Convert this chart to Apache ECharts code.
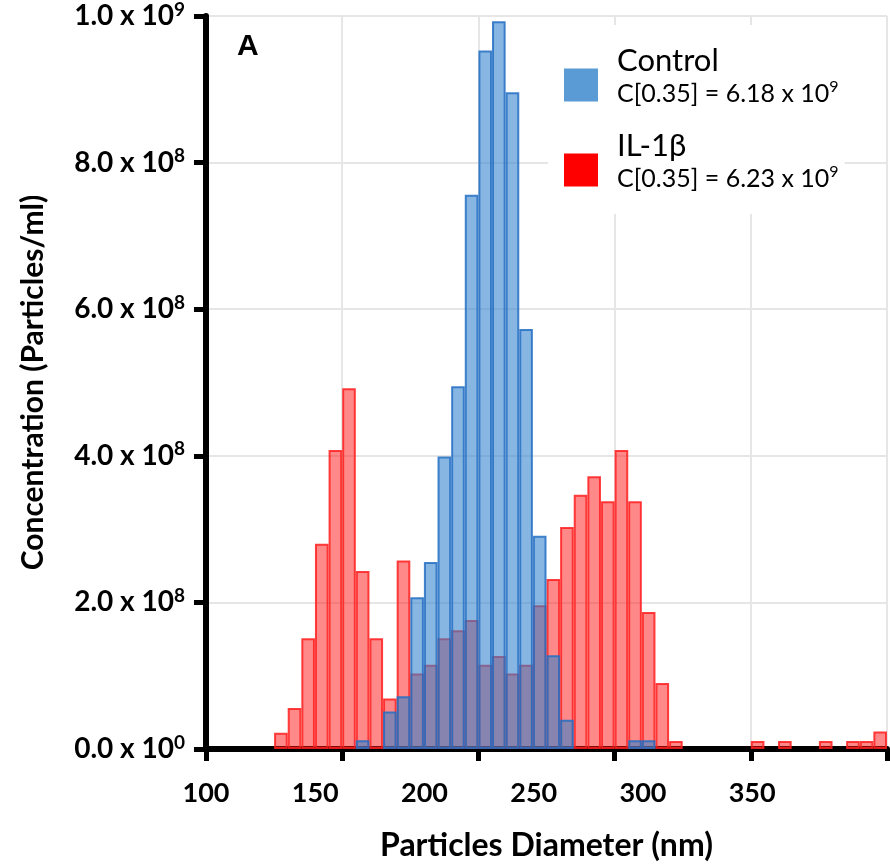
<!DOCTYPE html>
<html>
<head>
<meta charset="utf-8">
<style>
  html, body { margin: 0; padding: 0; background: #fff; }
  #chart { width: 890px; height: 867px; }
</style>
<script src="https://cdn.jsdelivr.net/npm/echarts@6/dist/echarts.min.js"></script>
</head>
<body>
<div id="chart"></div>
<script>
// Bin centres (nm), 5 nm bins from 125 to 350
const binCenters = [127.5, 132.5, 137.5, 142.5, 147.5, 152.5, 157.5, 162.5, 167.5, 172.5,
  177.5, 182.5, 187.5, 192.5, 197.5, 202.5, 207.5, 212.5, 217.5, 222.5,
  227.5, 232.5, 237.5, 242.5, 247.5, 252.5, 257.5, 262.5, 267.5, 272.5,
  277.5, 282.5, 287.5, 292.5, 297.5, 302.5, 307.5, 312.5, 317.5, 322.5,
  327.5, 332.5, 337.5, 342.5, 347.5];

// Concentration (particles/ml)
const il1bValues = [2.2e7, 5.6e7, 1.51e8, 2.80e8, 4.08e8, 4.92e8, 2.43e8, 1.51e8, 6.9e7, 2.57e8,
  1.03e8, 1.15e8, 1.51e8, 1.62e8, 1.76e8, 1.15e8, 1.27e8, 1.03e8, 1.15e8, 1.96e8,
  2.32e8, 3.03e8, 3.47e8, 3.72e8, 3.38e8, 4.08e8, 3.38e8, 1.87e8, 9.0e7, 1.1e7,
  0, 0, 0, 0, 0, 1.1e7, 0, 1.1e7, 0, 0,
  1.1e7, 0, 1.1e7, 1.1e7, 2.4e7];

const controlValues = [0, 0, 0, 0, 0, 0, 1.2e7, 0, 5.1e7, 7.2e7,
  2.07e8, 2.55e8, 3.99e8, 4.95e8, 7.56e8, 9.53e8, 9.93e8, 8.96e8, 5.73e8, 2.91e8,
  1.28e8, 4.0e7, 0, 0, 0, 0, 1.2e7, 1.2e7, 0, 0,
  0, 0, 0, 0, 0, 0, 0, 0, 0, 0,
  0, 0, 0, 0, 0];

// Tick labels
const xTickLabels = [100, 150, 200, 250, 300, 350];
const yTickValues = [0, 2e8, 4e8, 6e8, 8e8, 1e9];
const yTickMantissas = ['0.0', '2.0', '4.0', '6.0', '8.0', '1.0'];
const yTickExponents = ['0', '8', '8', '8', '8', '9'];

// Legend
const seriesNames = ['Control', 'IL-1β'];
const legendConcMantissa = ['6.18', '6.23'];
const legendConcExponent = ['9', '9'];

const chart = echarts.init(document.getElementById('chart'));

const gridLeft = 206, gridRight = 2, gridWidth = 890 - gridLeft - gridRight;
const xMin = 100, xMax = 350, binWidthNm = 5;
const barPx = gridWidth / (xMax - xMin) * binWidthNm;

// label axis spacing in the reference: label 100 at the axis origin, label 350 at ~547px
const labelAxisMax = 100 + 250 * gridWidth / 547;

function pairs(values) {
  // empty bins are not drawn
  return binCenters.map((x, i) => [x, values[i] === 0 ? '-' : values[i]]);
}

const option = {
  animation: false,
  backgroundColor: '#ffffff',
  title: {
    text: 'A',
    left: 232,
    top: 27,
    textStyle: { fontFamily: 'Liberation Sans', fontWeight: 'bold', fontSize: 30, color: '#000' }
  },
  legend: {
    orient: 'vertical',
    left: 548,
    top: 25,
    backgroundColor: '#ffffff',
    padding: [20, 6, 6, 16],
    itemWidth: 34,
    itemHeight: 33,
    itemGap: 7,
    data: [
      { name: seriesNames[0], icon: 'rect', itemStyle: { color: '#5b9bd5', borderWidth: 0 } },
      { name: seriesNames[1], icon: 'rect', itemStyle: { color: '#ff0000', borderWidth: 0 } }
    ],
    formatter: function (name) {
      const i = seriesNames.indexOf(name);
      return '{t|' + name + '}\n{s|C[0.35] = ' + legendConcMantissa[i] + ' x 10}{p|' + legendConcExponent[i] + '}\n{g| }';
    },
    textStyle: {
      color: '#000',
      rich: {
        t: { fontFamily: 'Lato', fontSize: 31, lineHeight: 36, padding: [0, 0, 0, 14], color: '#000' },
        s: { fontFamily: 'Lato', fontSize: 25, lineHeight: 30, padding: [0, 0, 0, 14], color: '#000' },
        p: { fontFamily: 'Lato', fontSize: 16, lineHeight: 30, verticalAlign: 'top', color: '#000' },
        g: { fontSize: 10, lineHeight: 19 }
      }
    }
  },
  grid: { left: gridLeft, right: gridRight, top: 15, bottom: 114, containLabel: false },
  xAxis: [
    {
      type: 'value',
      min: xMin,
      max: xMax,
      interval: 50,
      position: 'bottom',
      name: 'Particles Diameter (nm)',
      nameLocation: 'middle',
      nameGap: 81,
      nameTextStyle: { fontFamily: 'Lato', fontWeight: 'bold', fontSize: 32, color: '#000' },
      axisLine: { show: true, onZero: false, lineStyle: { color: '#000', width: 6 } },
      axisTick: { show: true, length: 12, lineStyle: { color: '#000', width: 5 } },
      axisLabel: { show: false },
      splitLine: { show: true, lineStyle: { color: '#e6e6e6', width: 2 } }
    },
    {
      type: 'value',
      min: 100,
      max: labelAxisMax,
      interval: 50,
      position: 'bottom',
      axisLine: { show: false },
      axisTick: { show: false },
      splitLine: { show: false },
      axisLabel: {
        show: true,
        margin: 31,
        fontFamily: 'Lato',
        fontWeight: 'bold',
        fontSize: 27,
        color: '#000',
        formatter: function (v) {
          return xTickLabels.indexOf(Math.round(v)) >= 0 && Math.abs(v - Math.round(v)) < 1e-6 ? String(Math.round(v)) : '';
        }
      }
    }
  ],
  yAxis: {
    type: 'value',
    min: 0,
    max: 1e9,
    interval: 2e8,
    name: 'Concentration (Particles/ml)',
    nameLocation: 'middle',
    nameGap: 158,
    nameTextStyle: { fontFamily: 'Lato', fontWeight: 'bold', fontSize: 30, color: '#000' },
    axisLine: { show: true, lineStyle: { color: '#000', width: 6 } },
    axisTick: { show: true, length: 12, lineStyle: { color: '#000', width: 5 } },
    splitLine: { show: true, lineStyle: { color: '#e6e6e6', width: 2 } },
    axisLabel: {
      margin: 21,
      formatter: function (v) {
        let i = -1;
        yTickValues.forEach((t, k) => { if (Math.abs(t - v) < 1) i = k; });
        if (i < 0) return '';
        return '{m|' + yTickMantissas[i] + ' x 10}{e|' + yTickExponents[i] + '}';
      },
      rich: {
        m: { fontFamily: 'Lato', fontWeight: 'bold', fontSize: 28, lineHeight: 32, color: '#000' },
        e: { fontFamily: 'Lato', fontWeight: 'bold', fontSize: 19, lineHeight: 32, verticalAlign: 'top', color: '#000' }
      }
    }
  },
  series: [
    {
      name: seriesNames[1],
      type: 'bar',
      xAxisIndex: 0,
      barWidth: barPx,
      barGap: '-100%',
      data: pairs(il1bValues),
      itemStyle: { color: 'rgba(255, 20, 20, 0.5)', borderColor: 'rgba(255, 30, 30, 0.85)', borderWidth: 2 },
      z: 2
    },
    {
      name: seriesNames[0],
      type: 'bar',
      xAxisIndex: 0,
      barWidth: barPx,
      barGap: '-100%',
      data: pairs(controlValues),
      itemStyle: { color: 'rgba(50, 130, 205, 0.58)', borderColor: 'rgba(35, 110, 195, 0.85)', borderWidth: 2 },
      z: 3
    }
  ]
};

chart.setOption(option);
</script>
</body>
</html>
